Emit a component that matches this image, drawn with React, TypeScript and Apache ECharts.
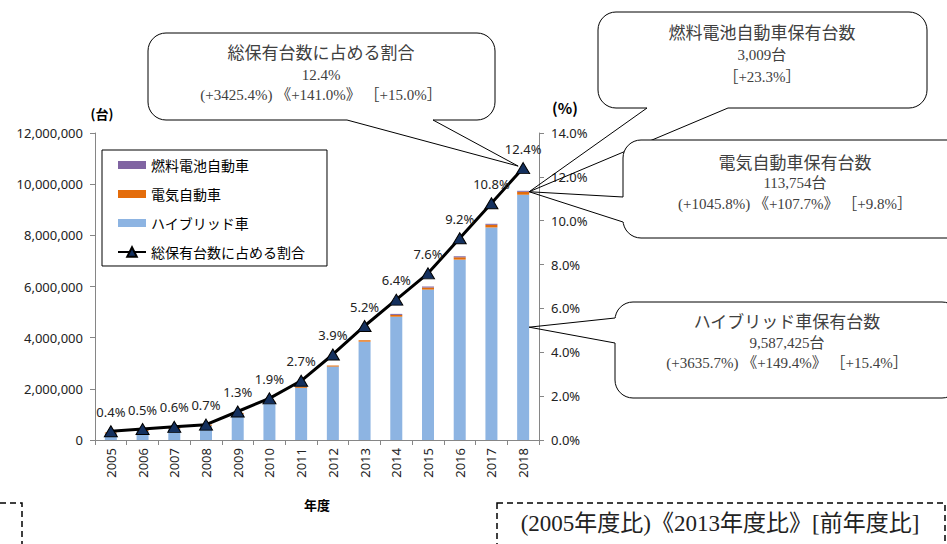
import React, { useEffect, useRef } from "react";
import * as echarts from "echarts";

const years = ["2005", "2006", "2007", "2008", "2009", "2010", "2011", "2012", "2013", "2014", "2015", "2016", "2017", "2018"];
const hybrid = [256644, 350000, 440000, 560000, 1020000, 1470000, 2040000, 2870000, 3844000, 4820000, 5880000, 7050000, 8308000, 9587425];
const electric = [9928, 9000, 8000, 7500, 9500, 14000, 26000, 41000, 54770, 70000, 80000, 92000, 103601, 113754];
const fuelCell: (number | null)[] = [null, null, null, null, null, null, null, null, null, 150, 630, 1800, 2440, 3009];
const shareOfTotal = [0.4, 0.5, 0.6, 0.7, 1.3, 1.9, 2.7, 3.9, 5.2, 6.4, 7.6, 9.2, 10.8, 12.4];

const leftTicks = { min: 0, max: 12000000, interval: 2000000 };
const rightTicks = { min: 0, max: 14, interval: 2 };

const names = {
  fc: "燃料電池自動車",
  ev: "電気自動車",
  hv: "ハイブリッド車",
  ratio: "総保有台数に占める割合",
};

const ratioNote = ["総保有台数に占める割合", "12.4%", "(+3425.4%) 《+141.0%》 ［+15.0%］"];
const fcNote = ["燃料電池自動車保有台数", "3,009台", "［+23.3%］"];
const evNote = ["電気自動車保有台数", "113,754台", "(+1045.8%) 《+107.7%》 ［+9.8%］"];
const hvNote = ["ハイブリッド車保有台数", "9,587,425台", "(+3635.7%) 《+149.4%》 ［+15.4%］"];
const legendNote = "(2005年度比)《2013年度比》[前年度比]";

const SANS = "'Noto Sans', 'Noto Sans CJK JP', sans-serif";
const CJK = "'Noto Sans CJK JP', sans-serif";
const SERIF = "'Liberation Serif', 'Noto Sans CJK JP', serif";
const AXIS = "#868686";

function textEl(text: string, x: number, y: number, size: number, family: string, color = "#404040", weight = "normal") {
  return {
    type: "text",
    z: 52,
    style: {
      text,
      x,
      y,
      fill: color,
      fontSize: size,
      fontFamily: family,
      fontWeight: weight,
      align: "center",
      verticalAlign: "middle",
      textAlign: "center",
      textVerticalAlign: "middle",
    },
  };
}

function bubble(
  box: { x: number; y: number; w: number; h: number },
  b1: number[],
  b2: number[],
  tip: number[],
  lines: string[],
  cx: number,
  ys: number[]
) {
  const els: any[] = [
    {
      type: "rect",
      z: 50,
      shape: { x: box.x, y: box.y, width: box.w, height: box.h, r: 18 },
      style: { fill: "#fff", stroke: "#000", lineWidth: 1 },
    },
    {
      type: "line",
      z: 50,
      shape: { x1: b1[0], y1: b1[1], x2: b2[0], y2: b2[1] },
      style: { stroke: "#fff", lineWidth: 3 },
    },
    {
      type: "polyline",
      z: 50,
      shape: { points: [b1, tip, b2] },
      style: { stroke: "#000", lineWidth: 1, fill: null },
    },
  ];
  lines.forEach((t, i) => {
    els.push(textEl(t, cx, ys[i], i === 0 ? 17 : 15, SERIF));
  });
  return els;
}

export default function App() {
  const ref = useRef<HTMLDivElement>(null);

  useEffect(() => {
    if (!ref.current) return;
    const chart = echarts.init(ref.current, null, { renderer: "svg" });
    const barIcon = "path://M0,0H28V8H0Z";
    chart.setOption({
      animation: false,
      backgroundColor: "#fff",
      grid: { left: 95, right: 408, top: 133, bottom: 104 },
      legend: {
        orient: "vertical",
        left: 102,
        top: 150,
        borderColor: "#000",
        borderWidth: 1,
        padding: [8, 22, 7, 15],
        itemGap: 15,
        itemWidth: 28,
        itemHeight: 12,
        textStyle: { fontSize: 14, color: "#000", fontFamily: CJK },
        data: [
          { name: names.fc, icon: barIcon },
          { name: names.ev, icon: barIcon },
          { name: names.hv, icon: barIcon },
          { name: names.ratio },
        ],
      },
      xAxis: {
        type: "category",
        data: years,
        axisLine: { lineStyle: { color: AXIS } },
        axisTick: { show: true, length: 5, lineStyle: { color: AXIS } },
        axisLabel: { rotate: 90, fontSize: 13, margin: 8, color: "#222", fontFamily: SANS },
        name: "年度",
        nameLocation: "middle",
        nameGap: 58,
        nameTextStyle: { fontSize: 13, fontWeight: "bold", color: "#000", fontFamily: CJK },
      },
      yAxis: [
        {
          type: "value",
          ...leftTicks,
          splitLine: { show: false },
          axisLine: { show: true, lineStyle: { color: AXIS } },
          axisTick: { show: true, length: 5, lineStyle: { color: AXIS } },
          axisLabel: {
            fontSize: 13,
            margin: 12,
            color: "#222",
            fontFamily: SANS,
            formatter: (v: number) => v.toLocaleString("en-US"),
          },
        },
        {
          type: "value",
          position: "right",
          ...rightTicks,
          splitLine: { show: false },
          axisLine: { show: true, lineStyle: { color: AXIS } },
          axisTick: { show: true, length: 5, lineStyle: { color: AXIS } },
          axisLabel: {
            fontSize: 13,
            margin: 12,
            color: "#222",
            fontFamily: SANS,
            formatter: (v: number) => v.toFixed(1) + "%",
          },
        },
      ],
      series: [
        {
          name: names.hv,
          type: "bar",
          stack: "total",
          barWidth: 12,
          itemStyle: { color: "#8DB4E2" },
          data: hybrid,
        },
        {
          name: names.ev,
          type: "bar",
          stack: "total",
          barWidth: 12,
          barMinHeight: 1,
          itemStyle: { color: "#E46C0A" },
          data: electric,
        },
        {
          name: names.fc,
          type: "bar",
          stack: "total",
          barWidth: 12,
          barMinHeight: 1,
          itemStyle: { color: "#8064A2" },
          data: fuelCell,
        },
        {
          name: names.ratio,
          type: "line",
          yAxisIndex: 1,
          z: 5,
          symbol: "triangle",
          symbolSize: [13, 11],
          lineStyle: { color: "#000", width: 3 },
          itemStyle: { color: "#14305E", borderColor: "#000", borderWidth: 1 },
          label: {
            show: true,
            position: "top",
            distance: 7,
            fontSize: 13,
            color: "#222",
            fontFamily: SANS,
            formatter: (p: any) => Number(p.value).toFixed(1) + "%",
          },
          data: shareOfTotal,
        },
      ],
    });

    const last = years.length - 1;
    const total = hybrid[last] + electric[last] + (fuelCell[last] || 0);
    const barTop = chart.convertToPixel({ xAxisIndex: 0, yAxisIndex: 0 }, [years[last], total]) as number[];
    const hvMid = chart.convertToPixel({ xAxisIndex: 0, yAxisIndex: 0 }, [years[last], hybrid[last] * 0.46]) as number[];
    const tri = chart.convertToPixel({ xAxisIndex: 0, yAxisIndex: 1 }, [years[last], shareOfTotal[last]]) as number[];
    const barTip = [barTop[0] + 6, barTop[1]];
    const hvTip = [hvMid[0] + 6, hvMid[1]];
    const triTip = [tri[0] - 5, tri[1] - 2];

    const elements: any[] = [
      ...bubble({ x: 148, y: 33, w: 347, h: 87 }, [347, 120], [433, 120], triTip, ratioNote, 321, [53, 75, 95]),
      ...bubble({ x: 598, y: 12, w: 329, h: 96 }, [647, 108], [728, 108], barTip, fcNote, 762, [33, 55, 77]),
      ...bubble({ x: 623, y: 140, w: 345, h: 98 }, [623, 197], [623, 222], barTip, evNote, 795, [163, 183, 204]),
      ...bubble({ x: 615, y: 302, w: 345, h: 96 }, [615, 318], [615, 343], hvTip, hvNote, 787, [322, 343, 363]),
      textEl("(台)", 102, 113, 13, CJK, "#000", "bold"),
      textEl("(%)", 565, 107, 15, CJK, "#000", "bold"),
      {
        type: "rect",
        z: 50,
        shape: { x: -20, y: 503, width: 42, height: 80 },
        style: { fill: null, stroke: "#000", lineWidth: 1.5, lineDash: [6, 4] },
      },
      {
        type: "rect",
        z: 50,
        shape: { x: 497, y: 503, width: 448, height: 80 },
        style: { fill: null, stroke: "#000", lineWidth: 1.5, lineDash: [6, 4] },
      },
      textEl(legendNote, 720, 523, 23, SERIF, "#222"),
    ];
    chart.setOption({ graphic: { elements } });

    return () => chart.dispose();
  }, []);

  return (
    <div
      ref={ref}
      style={{ position: "fixed", left: 0, top: 0, width: 947, height: 544, background: "#fff" }}
    />
  );
}
